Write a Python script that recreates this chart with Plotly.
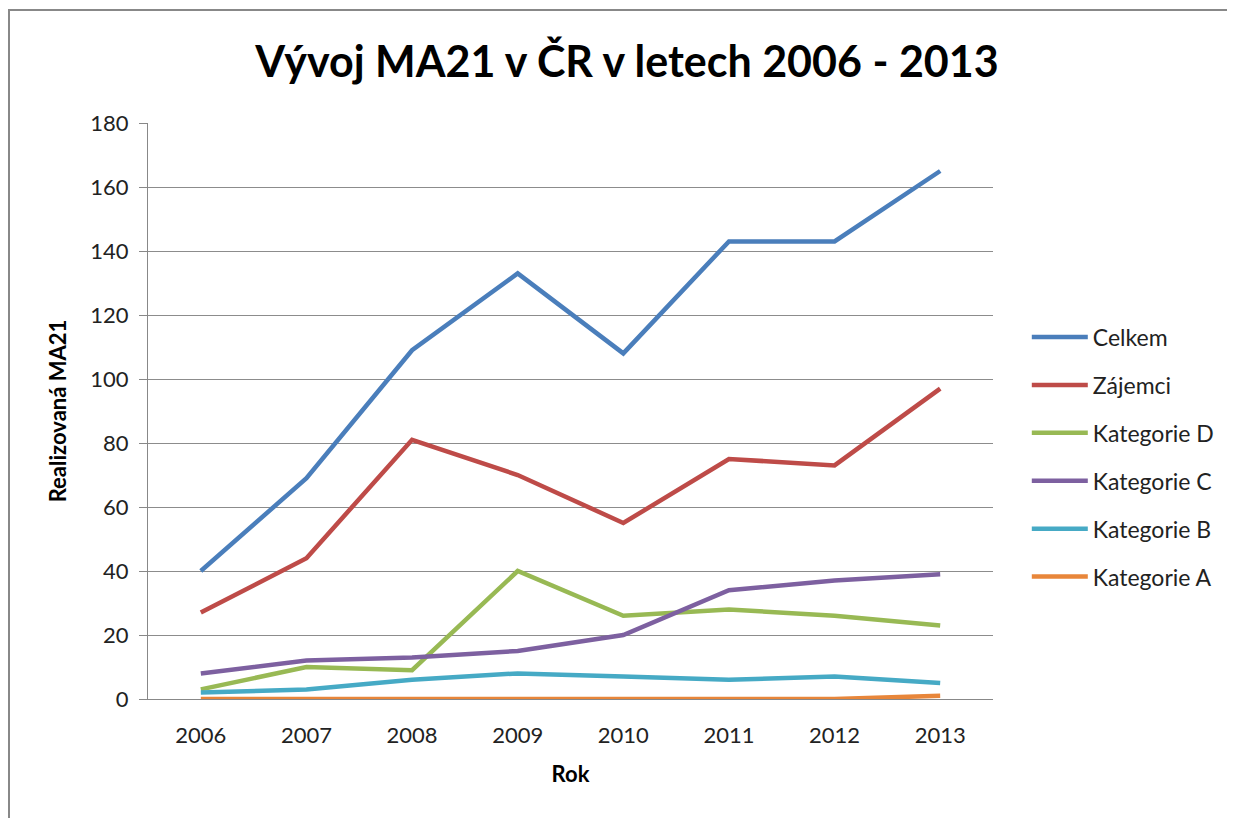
import plotly.graph_objects as go

years = ["2006", "2007", "2008", "2009", "2010", "2011", "2012", "2013"]
celkem = [40, 69, 109, 133, 108, 143, 143, 165]
zajemci = [27, 44, 81, 70, 55, 75, 73, 97]
kat_d = [3, 10, 9, 40, 26, 28, 26, 23]
kat_c = [8, 12, 13, 15, 20, 34, 37, 39]
kat_b = [2, 3, 6, 8, 7, 6, 7, 5]
kat_a = [0, 0, 0, 0, 0, 0, 0, 1]

series = [
    ("Celkem", celkem, "#4A7EBB"),
    ("Zájemci", zajemci, "#BE4B48"),
    ("Kategorie D", kat_d, "#98B954"),
    ("Kategorie C", kat_c, "#7D60A0"),
    ("Kategorie B", kat_b, "#46AAC5"),
    ("Kategorie A", kat_a, "#E8863A"),
]

FONT = "Lato"
# page body has an 8px offset; plot area (figure coords): x 140..985, y 115..691
L, R, T, B = 140, 985, 115, 691
PW, PH = R - L, B - T

fig = go.Figure()
for i, (name, vals, col) in enumerate(series):
    fig.add_trace(go.Scatter(x=years, y=vals, name=name, mode="lines",
                             line=dict(color=col, width=4.5),
                             legendgroup=f"g{i}"))

fig.update_layout(
    width=1235, height=818,
    margin=dict(l=L, r=1235 - R, t=T, b=818 - B),
    paper_bgcolor="white", plot_bgcolor="white",
    font=dict(family=FONT, color="#222", size=22),
    title=dict(text="<b>Vývoj MA21 v ČR v letech 2006 - 2013</b>",
               x=619 / 1235, xanchor="center", y=1 - 54 / 818, yanchor="middle",
               font=dict(size=43, color="black", family=FONT)),
    showlegend=True,
    legend=dict(x=1.04, xanchor="left", y=0.42, yanchor="middle",
                font=dict(size=23, family=FONT, color="#222"),
                tracegroupgap=15, itemwidth=56, bgcolor="rgba(0,0,0,0)"),
    xaxis=dict(type="category", range=[-0.5, 7.5], showline=True, linecolor="#888",
               linewidth=1, showgrid=False, ticks="", ticklabelstandoff=17,
               tickfont=dict(size=22),
               title=dict(text="<b>Rok</b>", font=dict(size=22, family=FONT, color="black"),
                          standoff=19)),
    yaxis=dict(range=[0, 180], dtick=20, showline=True, linecolor="#888", linewidth=1,
               showgrid=True, gridcolor="#8c8c8c", gridwidth=1,
               ticks="outside", ticklen=8, tickcolor="#888", ticklabelstandoff=6,
               tickfont=dict(size=22), zeroline=False,
               title=dict(text="<b>Realizovaná MA21</b>", font=dict(size=22, family=FONT, color="black"),
                          standoff=17)),
    shapes=[dict(type="rect", xref="paper", yref="paper",
                 x0=(1 - L) / PW, x1=(1220 - L) / PW,
                 y0=(B - 840) / PH, y1=(B - 2) / PH,
                 line=dict(color="#888", width=2), fillcolor="rgba(0,0,0,0)", layer="below")],
)

fig.write_html("out.html")
